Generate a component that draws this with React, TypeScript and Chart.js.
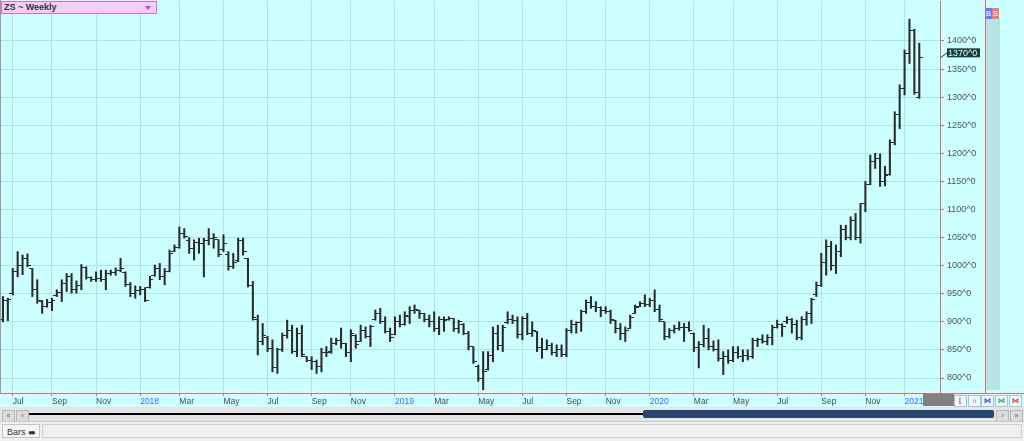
import React, { useEffect, useRef } from "react";
import { Chart, registerables } from "chart.js";

Chart.register(...registerables);

// ---------------- data ----------------
const SYMBOL_LABEL = "ZS ~ Weekly";
const FIRST_WEEK = "2017-06-23"; // date of bar 0, one bar per week

const opens = [
  905, 938, 950, 990, 1000, 1012, 995, 958, 936, 928,
  935, 946, 952, 968, 980, 958, 965, 996, 979, 975,
  978, 976, 986, 988, 991, 988, 966, 950, 956, 958,
  962, 982, 995, 980, 990, 1025, 1032, 1058, 1044, 1030,
  1042, 1040, 1045, 1048, 1046, 1028, 1020, 998, 1010, 1045,
  1012, 965, 905, 865, 872, 852, 818, 850, 876, 885,
  848, 880, 838, 832, 830, 820, 845, 848, 862, 866,
  862, 845, 875, 865, 885, 874, 905, 915, 900, 883,
  878, 900, 896, 910, 920, 920, 914, 905, 900, 888,
  905, 905, 906, 888, 896, 880, 856, 820, 800, 815,
  840, 880, 858, 898, 905, 902, 878, 906, 880, 883,
  855, 850, 858, 845, 850, 842, 885, 895, 898, 918,
  935, 928, 925, 920, 918, 903, 888, 880, 888, 915,
  928, 932, 930, 938, 922, 900, 874, 884, 888, 890,
  890, 880, 855, 860, 870, 856, 850, 835, 838, 832,
  845, 838, 840, 838, 866, 868, 865, 872, 890, 895,
  900, 905, 895, 872, 905, 915, 948, 965, 1005, 1035,
  1000, 1025, 1065, 1050, 1080, 1050, 1110, 1145, 1185, 1190,
  1150, 1162, 1220, 1270, 1315, 1378, 1418, 1300,
];

const highs = [
  945, 942, 995, 1025, 1019, 1021, 995, 975, 938, 940,
  942, 957, 975, 986, 986, 973, 1002, 998, 980, 989,
  992, 992, 992, 996, 1013, 989, 970, 964, 963, 961,
  981, 1001, 1004, 995, 1028, 1037, 1069, 1066, 1050, 1046,
  1049, 1049, 1066, 1057, 1046, 1055, 1025, 1022, 1049, 1049,
  1013, 972, 912, 897, 874, 868, 853, 880, 903, 894,
  889, 894, 838, 838, 832, 853, 856, 871, 871, 889,
  862, 886, 877, 894, 891, 894, 921, 924, 909, 889,
  909, 912, 918, 927, 930, 921, 915, 912, 918, 909,
  909, 909, 906, 903, 897, 883, 856, 823, 847, 847,
  891, 894, 894, 918, 912, 909, 909, 915, 900, 883,
  871, 868, 862, 859, 859, 888, 903, 900, 921, 939,
  945, 936, 927, 927, 921, 903, 897, 891, 912, 930,
  936, 948, 942, 957, 930, 900, 888, 894, 900, 897,
  900, 880, 865, 894, 888, 866, 868, 847, 850, 856,
  856, 850, 850, 871, 871, 877, 877, 894, 903, 897,
  909, 906, 903, 909, 918, 942, 971, 1022, 1046, 1043,
  1037, 1072, 1072, 1087, 1093, 1111, 1150, 1197, 1200, 1199,
  1177, 1224, 1274, 1322, 1384, 1439, 1421, 1396,
];

const lows = [
  900, 902, 948, 980, 984, 998, 945, 933, 915, 926,
  920, 945, 936, 954, 951, 951, 957, 976, 972, 972,
  972, 957, 983, 983, 989, 963, 945, 942, 948, 936,
  960, 981, 975, 966, 989, 1025, 1031, 1049, 1022, 1010,
  1022, 980, 1037, 1031, 1016, 1025, 992, 995, 1007, 1019,
  962, 903, 841, 859, 847, 811, 808, 847, 871, 844,
  838, 838, 829, 815, 808, 811, 838, 844, 859, 853,
  838, 829, 853, 865, 871, 856, 903, 897, 880, 865,
  877, 891, 894, 897, 915, 906, 900, 891, 883, 877,
  883, 903, 883, 880, 877, 850, 826, 794, 779, 814,
  829, 850, 847, 897, 897, 871, 868, 877, 874, 847,
  835, 850, 841, 838, 838, 838, 880, 880, 883, 915,
  924, 918, 909, 915, 897, 880, 868, 865, 888, 915,
  927, 927, 927, 918, 900, 868, 871, 880, 885, 865,
  883, 847, 818, 855, 850, 848, 830, 806, 826, 829,
  835, 829, 832, 835, 856, 862, 859, 859, 889, 874,
  897, 880, 868, 868, 894, 897, 945, 963, 983, 992,
  986, 1016, 1046, 1046, 1046, 1040, 1096, 1144, 1173, 1141,
  1142, 1161, 1215, 1244, 1304, 1360, 1305, 1298,
];

const closes = [
  938, 940, 990, 1000, 1012, 1000, 958, 938, 928, 935,
  938, 952, 968, 980, 958, 965, 996, 979, 975, 978,
  976, 986, 988, 991, 995, 966, 950, 956, 958, 938,
  975, 995, 980, 990, 1022, 1032, 1058, 1052, 1030, 1042,
  1040, 1045, 1048, 1050, 1020, 1040, 998, 1005, 1045, 1026,
  965, 908, 865, 875, 852, 818, 850, 875, 885, 848,
  880, 842, 832, 830, 820, 845, 845, 862, 866, 862,
  845, 880, 860, 885, 874, 892, 915, 900, 883, 872,
  900, 896, 912, 920, 922, 914, 905, 900, 888, 905,
  903, 906, 888, 900, 880, 856, 830, 800, 812, 840,
  880, 858, 890, 905, 902, 878, 906, 880, 885, 855,
  850, 858, 845, 850, 842, 885, 895, 898, 918, 935,
  928, 925, 920, 918, 905, 888, 880, 885, 908, 925,
  932, 930, 938, 922, 905, 874, 884, 888, 890, 890,
  885, 855, 860, 870, 856, 850, 835, 838, 832, 845,
  838, 840, 838, 866, 868, 865, 872, 890, 895, 892,
  905, 895, 872, 905, 915, 940, 965, 1005, 1035, 1000,
  1025, 1065, 1050, 1080, 1050, 1110, 1145, 1185, 1190, 1150,
  1160, 1220, 1270, 1315, 1378, 1418, 1308, 1370,
];

const priceTicks = [800, 850, 900, 950, 1000, 1050, 1100, 1150, 1200, 1250, 1300, 1350, 1400];
const monthNames = ["Jan", "Feb", "Mar", "Apr", "May", "Jun", "Jul", "Aug", "Sep", "Oct", "Nov", "Dec"];
const tickMonthsFrom = { year: 2017, month: 6 }; // Jul 2017
const tickMonthsTo = { year: 2021, month: 0 }; // Jan 2021
const tickMonthStep = 2;

// ---------------- styling ----------------
const BG = "#ccffff";
const GRID = "#aee6e6";
const RED = "#e46a6a";
const BAR = "#2b2b2b";
const FONT = "'Liberation Sans', Arial, sans-serif";

function buildMonthTicks() {
  const start = Date.parse(FIRST_WEEK + "T00:00:00Z");
  const week = 7 * 24 * 3600 * 1000;
  const out: { value: number; label: string; year: boolean }[] = [];
  let y = tickMonthsFrom.year;
  let m = tickMonthsFrom.month;
  while (y < tickMonthsTo.year || (y === tickMonthsTo.year && m <= tickMonthsTo.month)) {
    const t = Date.UTC(y, m, 1);
    const idx = Math.ceil((t - start) / week);
    out.push({ value: idx, label: m === 0 ? String(y) : monthNames[m], year: m === 0 });
    m += tickMonthStep;
    if (m > 11) {
      m -= 12;
      y += 1;
    }
  }
  return out;
}

export default function App() {
  const ref = useRef<HTMLCanvasElement>(null);

  useEffect(() => {
    const canvas = ref.current;
    if (!canvas) return;
    const mk = (left: boolean) => {
      const c = document.createElement("canvas");
      c.width = 7;
      c.height = 1;
      const g = c.getContext("2d")!;
      g.fillStyle = BAR;
      g.fillRect(left ? 0 : 4, 0, 3, 1);
      return c;
    };
    const openImg = mk(true);
    const closeImg = mk(false);
    const monthTicks = buildMonthTicks();
    const labelMap = new Map<number, { label: string; year: boolean }>();
    monthTicks.forEach((t) => labelMap.set(t.value, t));
    const lastClose = closes[closes.length - 1];

    const lastLabel = {
      id: "lastLabel",
      afterDraw(chart: any) {
        const ctx = chart.ctx;
        const y = chart.scales.y.getPixelForValue(lastClose);
        const x0 = chart.chartArea.right;
        ctx.save();
        ctx.strokeStyle = "#1d3b3b";
        ctx.lineWidth = 1;
        ctx.beginPath();
        ctx.moveTo(x0 + 0.5, y);
        ctx.lineTo(x0 + 7, y - 5);
        ctx.stroke();
        ctx.fillStyle = "#1d3b3b";
        ctx.fillRect(x0 + 7, y - 9.5, 33, 9);
        ctx.fillStyle = "#dfffff";
        ctx.font = `9px ${FONT}`;
        ctx.textBaseline = "middle";
        ctx.textAlign = "left";
        ctx.fillText(`${lastClose}^0`, x0 + 8, y - 4.8);
        ctx.restore();
      },
    };

    const idx = closes.map((_, i) => i);
    const chart = new Chart(canvas, {
      type: "bar",
      data: {
        datasets: [
          {
            type: "bar",
            data: idx.map((i) => ({ x: i, y: [lows[i], highs[i]] })) as any,
            backgroundColor: BAR,
            borderWidth: 0,
            barThickness: 1.4,
            grouped: false,
          } as any,
          {
            type: "scatter",
            data: idx.map((i) => ({ x: i, y: opens[i] })),
            pointStyle: openImg as any,
            pointRadius: 3,
            showLine: false,
          },
          {
            type: "scatter",
            data: idx.map((i) => ({ x: i, y: closes[i] })),
            pointStyle: closeImg as any,
            pointRadius: 3,
            showLine: false,
          },
        ],
      },
      options: {
        animation: false,
        responsive: false,
        events: [],
        layout: { autoPadding: false, padding: { top: 1, left: 1, right: 0, bottom: 0 } },
        plugins: { legend: { display: false }, tooltip: { enabled: false } },
        scales: {
          x: {
            type: "linear",
            min: -0.4,
            max: 191.23,
            offset: false,
            afterBuildTicks: (s: any) => {
              s.ticks = monthTicks.map((t) => ({ value: t.value }));
            },
            afterFit: (s: any) => {
              s.height = 14;
              s.paddingLeft = 0;
              s.paddingRight = 0;
            },
            ticks: {
              autoSkip: false,
              maxRotation: 0,
              minRotation: 0,
              align: "start",
              padding: 1,
              font: { family: FONT, size: 8.5 },
              color: (c: any) => (labelMap.get(c.tick?.value)?.year ? "#4a63ff" : "#4a4a4a"),
              callback: (v: any) => labelMap.get(Number(v))?.label ?? "",
            },
            grid: { color: GRID, tickColor: RED, tickLength: 3, lineWidth: 1, offset: false },
            border: { color: RED, width: 1 },
          } as any,
          y: {
            type: "linear",
            position: "right",
            min: 773.3,
            max: 1471.2,
            afterBuildTicks: (s: any) => {
              s.ticks = priceTicks.map((v) => ({ value: v }));
            },
            afterFit: (s: any) => {
              s.width = 45;
              s.paddingTop = 0;
              s.paddingBottom = 0;
            },
            ticks: {
              padding: 3,
              font: { family: FONT, size: 9 },
              color: "#555555",
              callback: (v: any) => `${v}^0`,
            },
            grid: { color: GRID, tickColor: RED, tickLength: 4, lineWidth: 1 },
            border: { color: RED, width: 1 },
          } as any,
        },
      },
      plugins: [lastLabel],
    });
    return () => chart.destroy();
  }, []);

  const abs = (s: React.CSSProperties): React.CSSProperties => ({ position: "absolute", ...s });
  const btn = (left: number, txt: string): React.ReactNode => (
    <div
      style={abs({
        left,
        top: 410,
        width: 11,
        height: 10,
        background: "#dcdcdc",
        border: "1px solid #b8b8b8",
        fontSize: 7,
        lineHeight: "10px",
        textAlign: "center",
        color: "#555",
      })}
    >
      {txt}
    </div>
  );
  const icon = (left: number, color: string, glyph: string): React.ReactNode => (
    <div
      style={abs({
        left,
        top: 395,
        width: 11,
        height: 10,
        background: "#eef8fb",
        border: "1px solid #9fc8d6",
        color,
        fontSize: 7,
        lineHeight: "10px",
        textAlign: "center",
        fontWeight: "bold",
      })}
    >
      {glyph}
    </div>
  );

  return (
    <div
      style={{
        position: "fixed",
        left: 0,
        top: 0,
        width: 1024,
        height: 441,
        background: BG,
        overflow: "hidden",
        fontFamily: FONT,
      }}
    >
      {/* dark box under the last year label */}
      <div style={abs({ left: 923, top: 394, width: 31, height: 12, background: "#808080" })} />
      <div style={abs({ left: 0, top: 0, width: 985, height: 407 })}>
        <canvas ref={ref} width={985} height={407} style={{ display: "block" }} />
      </div>
      {/* left border */}
      <div style={abs({ left: 0, top: 0, width: 1, height: 394, background: "#9a9a9a" })} />
      {/* right price panel lines */}
      <div style={abs({ left: 985, top: 0, width: 1, height: 394, background: RED })} />
      <div style={abs({ left: 940, top: 393, width: 84, height: 1, background: RED })} />
      <div style={abs({ left: 986, top: 19, width: 14, height: 371, background: "#b7e3e3" })} />
      <div
        style={abs({
          left: 985,
          top: 8,
          width: 7,
          height: 11,
          background: "#7272ff",
          color: "#fff",
          fontSize: 8,
          lineHeight: "11px",
          textAlign: "center",
        })}
      >
        B
      </div>
      <div
        style={abs({
          left: 992,
          top: 8,
          width: 7,
          height: 11,
          background: "#f07a7a",
          color: "#fff",
          fontSize: 8,
          lineHeight: "11px",
          textAlign: "center",
        })}
      >
        S
      </div>
      {/* symbol label */}
      <div
        style={abs({
          left: 1,
          top: 1,
          width: 152,
          height: 11,
          background: "#f3d0f3",
          border: "1px solid #d66ad6",
          fontSize: 9,
          lineHeight: "11px",
          fontWeight: "bold",
          color: "#333",
          paddingLeft: 2,
          boxSizing: "content-box",
        })}
      >
        {SYMBOL_LABEL}
      </div>
      <div
        style={abs({
          left: 145,
          top: 6,
          width: 0,
          height: 0,
          borderLeft: "3.5px solid transparent",
          borderRight: "3.5px solid transparent",
          borderTop: "4px solid #d040d0",
        })}
      />
      {/* small tool icons */}
      {icon(954, "#e04040", "⌊")}
      {icon(968, "#3050d0", "∩")}
      {icon(981, "#3050d0", "⋈")}
      {icon(995, "#30b050", "⋈")}
      {icon(1009, "#e04040", "⋈")}
      {/* scroll row */}
      <div style={abs({ left: 0, top: 407, width: 1024, height: 14, background: "#e4e4e4" })} />
      {btn(2, "«")}
      {btn(16, "‹")}
      <div style={abs({ left: 29, top: 413, width: 614, height: 2, background: "#000" })} />
      <div style={abs({ left: 643, top: 410, width: 351, height: 8, background: "#26466f", borderRadius: 2 })} />
      {btn(996, "›")}
      {btn(1010, "»")}
      {/* bottom tab row */}
      <div
        style={abs({
          left: 0,
          top: 421,
          width: 1024,
          height: 20,
          background: "#f0f0f0",
          borderTop: "1px solid #c8c8c8",
          boxSizing: "border-box",
        })}
      />
      <div
        style={abs({
          left: 2,
          top: 424,
          width: 38,
          height: 14,
          background: "#f6f6f6",
          border: "1px solid #c4c4c4",
          fontSize: 9,
          lineHeight: "14px",
          color: "#333",
          paddingLeft: 4,
          boxSizing: "border-box",
        })}
      >
        Bars <span style={{ fontSize: 8, letterSpacing: -2 }}>●●</span>
      </div>
      <div
        style={abs({
          left: 42,
          top: 424,
          width: 980,
          height: 14,
          border: "1px solid #cfcfcf",
          boxSizing: "border-box",
        })}
      />
    </div>
  );
}
